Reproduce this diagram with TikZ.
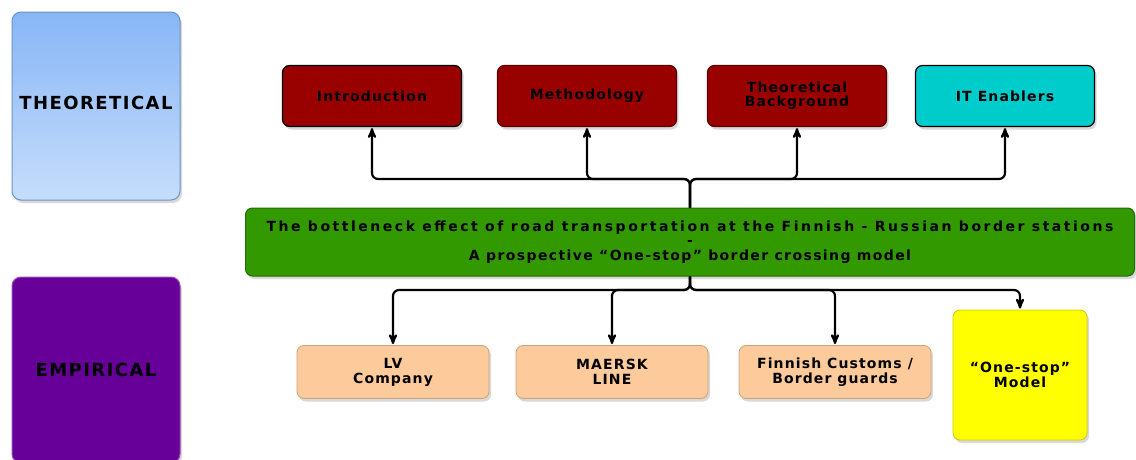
\documentclass[tikz,border=0pt]{standalone}
\usepackage{fontspec}
\newfontfamily\boxfont{DejaVu Sans}[LetterSpace=8]
\newfontfamily\mainfont{DejaVu Sans}[LetterSpace=18]
\newfontfamily\sidefont{DejaVu Sans}[LetterSpace=8]
\usetikzlibrary{arrows,shadows}

\definecolor{theotop}{HTML}{88B6F6}
\definecolor{theobot}{HTML}{C6DDFB}
\definecolor{empurple}{HTML}{660099}
\definecolor{topicred}{HTML}{990000}
\definecolor{itcyan}{HTML}{00CCCC}
\definecolor{maingreen}{HTML}{339900}
\definecolor{casepeach}{HTML}{FCCA9B}
\definecolor{stopyellow}{HTML}{FFFF00}

\begin{document}
\begin{tikzpicture}[x=1pt,y=-1pt,>=stealth',shorten >=1pt,
  box shadow/.style={drop shadow={shadow xshift=2pt,shadow yshift=-3pt,opacity=0.3}},
  side node/.style={rounded corners=9pt,minimum width=168pt,box shadow,
    font=\sidefont\bfseries\fontsize{18}{20}\selectfont},
  topic node/.style={rounded corners=7pt,minimum width=179pt,minimum height=61pt,
    fill=topicred,draw=topicred!60!black,line width=1.2pt,box shadow,align=center,
    font=\boxfont\bfseries\fontsize{14}{14}\selectfont},
  case node/.style={rounded corners=7pt,minimum width=192pt,minimum height=53pt,
    fill=casepeach,draw=casepeach!80!black,line width=0.8pt,box shadow,align=center,
    font=\boxfont\bfseries\fontsize{14}{15}\selectfont},
  link/.style={->,line width=2.2pt,rounded corners=6pt}]

  \useasboundingbox (0,0) rectangle (1136,459);

  % side labels
  \node[side node,minimum height=188pt,top color=theotop,bottom color=theobot,
    draw=theotop!80!black,line width=1pt] (theo) at (96,106) {\raisebox{7pt}{THEORETICAL}};
  \node[side node,minimum height=186pt,fill=empurple,draw=empurple!70!white,
    line width=1pt] (emp) at (96,370) {EMPIRICAL};

  % theoretical part
  \node[topic node,draw=black] (intro) at (372,96) {Introduction};
  \node[topic node] (method) at (587,96) {Methodology};
  \node[topic node] (theory) at (797,96) {Theoretical\\Background};
  \node[topic node,fill=itcyan,draw=black] (it) at (1005,96) {IT Enablers};

  % research topic
  \node[rounded corners=7pt,minimum width=889pt,minimum height=68pt,
    fill=maingreen,draw=maingreen!70!black,line width=1pt,box shadow,align=center,
    font=\mainfont\bfseries\fontsize{14}{14.5}\selectfont] (main) at (690,242)
    {The bottleneck effect of road transportation at the Finnish - Russian border stations\\
     -\\
     \addfontfeature{LetterSpace=10}A prospective “One-stop” border crossing model};

  % empirical part
  \node[case node] (lv) at (393,372) {LV\\Company};
  \node[case node] (maersk) at (612,372) {MAERSK\\LINE};
  \node[case node] (customs) at (835,372) {Finnish Customs /\\Border guards};
  \node[case node,minimum width=134pt,minimum height=130pt,fill=stopyellow,
    draw=stopyellow!80!black] (stop) at (1020,375) {“One-stop”\\Model};

  \coordinate (up) at (690,179);
  \coordinate (down) at (690,290);

  \draw[link] (main.north) -- (up) -| (intro.south);
  \draw[link] (main.north) -- (up) -| (method.south);
  \draw[link] (main.north) -- (up) -| (theory.south);
  \draw[link] (main.north) -- (up) -| (it.south);
  \draw[link] (main.south) -- (down) -| (lv.north);
  \draw[link] (main.south) -- (down) -| (maersk.north);
  \draw[link] (main.south) -- (down) -| (customs.north);
  \draw[link] (main.south) -- (down) -| (stop.north);

\end{tikzpicture}
\end{document}
